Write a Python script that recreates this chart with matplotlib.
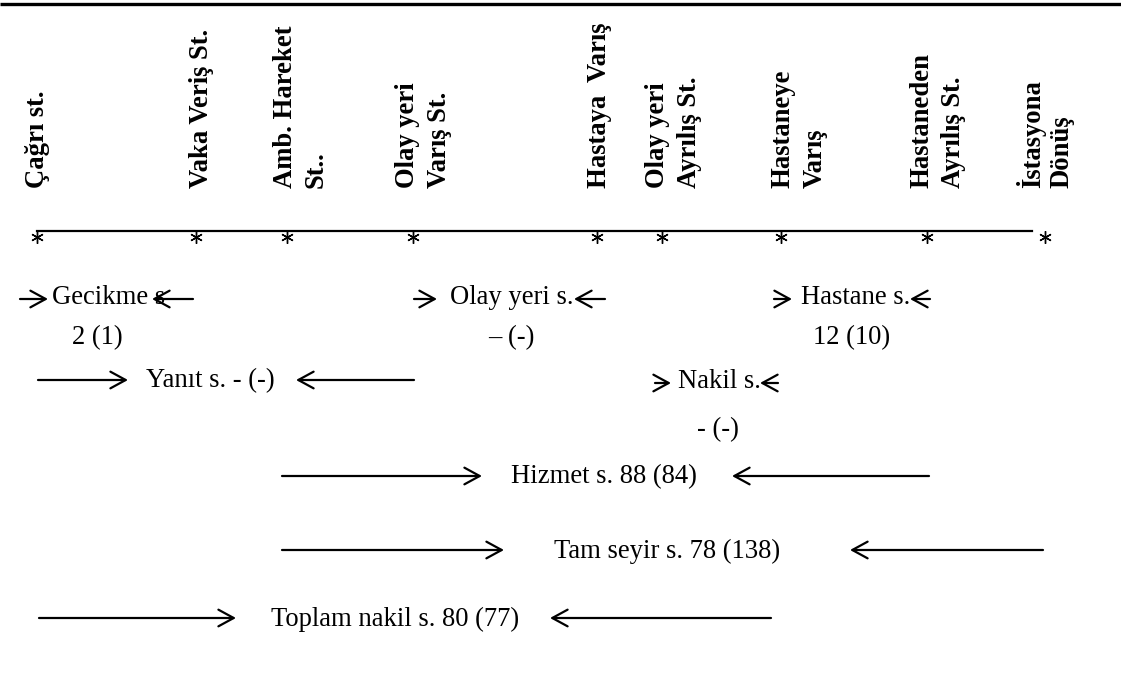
import matplotlib
matplotlib.use("Agg")
import matplotlib.pyplot as plt

# -------------------------
# 1. Diagram content
# -------------------------
station_labels = [
    ["Çağrı st."],
    ["Vaka Veriş St."],
    ["Amb. Hareket", "St.."],
    ["Olay yeri", "Varış St."],
    ["Hastaya  Varış"],
    ["Olay yeri", "Ayrılış St."],
    ["Hastaneye", "Varış"],
    ["Hastaneden", "Ayrılış St."],
    ["İstasyona", "Dönüş"],
]

# short intervals: name on one row, value below it
short_names = ["Gecikme s", "Olay yeri s.", "Hastane s.", "Nakil s."]
short_values = ["2 (1)", "– (-)", "12 (10)", "- (-)"]

# long intervals: name and value on one row
long_names = ["Yanıt s.", "Hizmet s.", "Tam seyir s.", "Toplam nakil s."]
long_values = ["- (-)", "88 (84)", "78 (138)", "80 (77)"]

# -------------------------
# 2. Layout (pixels, y down)
# -------------------------
station_x = [37, 196, 287, 413, 597, 662, 781, 927, 1045]
label_cols = [[37], [201], [285, 316], [407, 439], [600], [657, 689],
              [783, 815], [922, 953], [1031, 1062]]
label_bottom = 188
line_y = 231

short_text = [(52, 297), (450, 297), (801, 297), (678, 381)]
short_val = [(97, 338), (511, 338), (852, 338), (718, 430)]
short_arrows = [((20, 48), (193, 152)), ((414, 437), (605, 574)),
                ((774, 792), (930, 910)), ((655, 671), (778, 760))]

long_text = [(146, 381), (511, 477), (554, 551), (271, 619)]
long_arrows = [((38, 128), (414, 296)), ((282, 482), (929, 732)),
               ((282, 504), (1043, 850)), ((39, 236), (771, 550))]

# -------------------------
# 3. Draw
# -------------------------
plt.rcParams["font.family"] = ["Liberation Serif", "DejaVu Serif"]
fs = 19.2

fig = plt.figure(figsize=(11.21, 6.81), dpi=100)
ax = fig.add_axes([0, 0, 1, 1])
ax.set_xlim(0, 1121)
ax.set_ylim(681, 0)
ax.axis("off")


def arrow(x0, x1, y, lw=1.6):
    ax.annotate("", xy=(x1, y), xytext=(x0, y),
                arrowprops=dict(arrowstyle="->, head_length=1.1, head_width=0.6",
                                lw=lw, color="black", mutation_scale=10,
                                shrinkA=0, shrinkB=0))


# top rule and time line
ax.plot([0, 1121], [4, 4], color="black", lw=2.4, solid_capstyle="butt")
ax.plot([station_x[0], 1032], [line_y, line_y], color="black", lw=1.6)

for lines, cols in zip(station_labels, label_cols):
    for txt, cx in zip(lines, cols):
        ax.text(cx, label_bottom, txt, rotation=90, ha="center", va="bottom",
                fontsize=fs, fontweight="bold")

# station marks
ax.plot(station_x, [line_y + 6] * len(station_x), linestyle="none",
        marker=(6, 2, 0), ms=9, mew=1.0, color="black")

for name, val, (tx, ty), (vx, vy), (ra, la) in zip(short_names, short_values,
                                                   short_text, short_val, short_arrows):
    ax.text(tx, ty, name, ha="left", va="center", fontsize=fs)
    ax.text(vx, vy, val, ha="center", va="center", fontsize=fs)
    arrow(ra[0], ra[1], ty + 2)
    arrow(la[0], la[1], ty + 2)

for name, val, (tx, ty), (ra, la) in zip(long_names, long_values, long_text, long_arrows):
    ax.text(tx, ty, f"{name} {val}", ha="left", va="center", fontsize=fs)
    arrow(ra[0], ra[1], ty - 1)
    arrow(la[0], la[1], ty - 1)

fig.savefig("out.png", dpi=100)
